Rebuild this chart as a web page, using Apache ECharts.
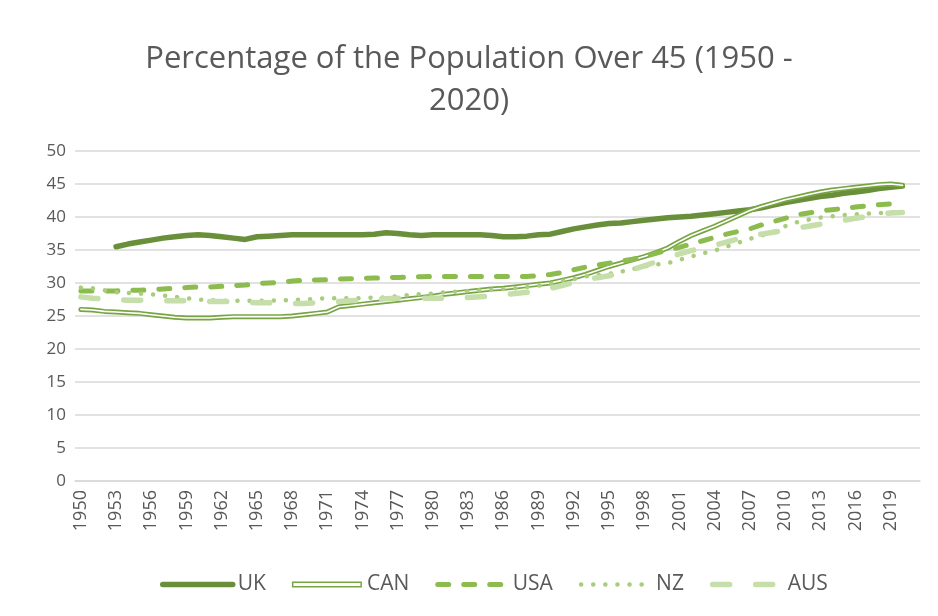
<!DOCTYPE html>
<html><head><meta charset="utf-8">
<script src="https://cdn.jsdelivr.net/npm/echarts@6/dist/echarts.min.js"></script>
<style>html,body{margin:0;padding:0;background:#fff}#c{width:938px;height:616px}</style>
</head><body><div id="c"></div>
<script>
const years = ['1950','1951','1952','1953','1954','1955','1956','1957','1958','1959',
'1960','1961','1962','1963','1964','1965','1966','1967','1968','1969',
'1970','1971','1972','1973','1974','1975','1976','1977','1978','1979',
'1980','1981','1982','1983','1984','1985','1986','1987','1988','1989',
'1990','1991','1992','1993','1994','1995','1996','1997','1998','1999',
'2000','2001','2002','2003','2004','2005','2006','2007','2008','2009',
'2010','2011','2012','2013','2014','2015','2016','2017','2018','2019',
'2020','2021'];
const yTicks = [0,5,10,15,20,25,30,35,40,45,50];

const uk = [null,null,null,35.5,35.9,36.2,36.5,36.8,37.0,37.2,
37.3,37.2,37.0,36.8,36.6,37.0,37.1,37.2,37.3,37.3,
37.3,37.3,37.3,37.3,37.3,37.4,37.6,37.5,37.3,37.2,
37.3,37.3,37.3,37.3,37.3,37.2,37.0,37.0,37.1,37.3,
37.4,37.8,38.2,38.5,38.8,39.0,39.1,39.3,39.5,39.7,
39.9,40.0,40.1,40.3,40.5,40.7,40.9,41.1,41.4,41.8,
42.2,42.5,42.8,43.1,43.3,43.6,43.8,44.0,44.3,44.5,
44.7];
const can = [26.0,25.9,25.7,25.6,25.5,25.4,25.2,25.0,24.8,24.7,
24.7,24.7,24.8,24.9,24.9,24.9,24.9,24.9,25.0,25.2,
25.4,25.6,26.4,26.6,26.8,27.0,27.2,27.4,27.6,27.8,
28.0,28.3,28.5,28.7,28.9,29.1,29.2,29.4,29.6,29.8,
30.0,30.4,30.8,31.3,31.9,32.5,33.0,33.5,34.0,34.6,
35.3,36.3,37.2,37.9,38.6,39.4,40.2,41.0,41.6,42.1,
42.6,43.0,43.4,43.8,44.1,44.3,44.5,44.7,44.9,45.0,
44.8];
const usa = [28.8,28.8,28.8,28.8,28.9,28.9,29.0,29.1,29.2,29.3,
29.4,29.4,29.5,29.6,29.7,29.9,30.0,30.1,30.3,30.4,
30.45,30.5,30.6,30.65,30.7,30.75,30.8,30.85,30.9,30.95,
31.0,31.0,31.0,31.0,31.0,31.0,31.0,31.0,31.0,31.1,
31.3,31.6,32.0,32.4,32.7,33.0,33.3,33.6,34.0,34.5,
35.0,35.4,35.9,36.4,36.9,37.4,37.8,38.2,38.8,39.3,
39.8,40.3,40.6,40.9,41.1,41.3,41.5,41.7,41.85,42.0,
42.1];
const nz = [29.3,29.2,28.9,28.6,28.5,28.4,28.3,28.1,27.9,27.7,
27.5,27.4,27.3,27.3,27.3,27.3,27.3,27.4,27.4,27.5,
27.6,27.7,27.7,27.7,27.7,27.8,27.8,28.0,28.2,28.3,
28.4,28.6,28.7,28.8,28.9,29.0,29.1,29.2,29.4,29.6,
29.9,30.3,30.6,31.0,31.2,31.4,31.7,32.1,32.5,32.8,
33.0,33.5,34.0,34.5,34.9,35.5,36.1,36.7,37.2,37.7,
38.6,39.2,39.6,39.9,40.1,40.3,40.4,40.5,40.6,40.7,
40.8];
const aus = [27.9,27.7,27.6,27.5,27.4,27.4,27.4,27.3,27.3,27.3,
27.3,27.2,27.2,27.2,27.1,27.0,27.0,26.9,26.9,26.9,
27.0,27.1,27.2,27.3,27.4,27.5,27.6,27.7,27.7,27.7,
27.7,27.7,27.7,27.8,27.9,28.0,28.2,28.4,28.6,28.8,
29.2,29.6,30.1,30.5,30.8,31.1,31.5,32.0,32.6,33.2,
33.8,34.4,34.9,35.3,35.7,36.2,36.7,37.1,37.4,37.7,
38.0,38.3,38.6,38.9,39.2,39.5,39.8,40.1,40.4,40.6,
40.7];

const FONT = 'Open Sans';
const TXT = '#595959';
const COL = {uk:'#6A8F3B', can:'#78A543', usa:'#8CBB4E', nz:'#A9CC7E', aus:'#C6DEA9'};

const chart = echarts.init(document.getElementById('c'));
const lineBase = (name, data, color, width, type) => ({
  name, type:'line', data, symbol:'none', showSymbol:false, connectNulls:false,
  itemStyle:{color},
  lineStyle:{color, width, type: type || 'solid', cap:'round', join:'round'},
  emphasis:{disabled:true}
});
chart.setOption({
  animation:false,
  backgroundColor:'#fff',
  title:{
    text:'Percentage of the Population Over 45 (1950 -\n2020)',
    left:'center', top:33,
    textStyle:{fontFamily:FONT, fontSize:31, fontWeight:'normal', color:TXT, lineHeight:42}
  },
  grid:{left:75, right:18, top:151, bottom:135},
  xAxis:{
    type:'category', data:years, boundaryGap:true,
    axisLine:{lineStyle:{color:'#D9D9D9', width:1.5}},
    axisTick:{show:false},
    axisLabel:{interval:2, rotate:90, fontFamily:FONT, fontSize:18, color:TXT, margin:9}
  },
  yAxis:{
    type:'value', min:yTicks[0], max:yTicks[yTicks.length-1], interval:5,
    axisLine:{show:false}, axisTick:{show:false},
    axisLabel:{fontFamily:FONT, fontSize:17, color:TXT, margin:9},
    splitLine:{lineStyle:{color:'#D9D9D9', width:1.5}}
  },
  legend:{
    top:569, left:155, itemWidth:70, itemHeight:6, itemGap:26,
    selectedMode:false,
    textStyle:{fontFamily:FONT, fontSize:21, color:TXT},
    data:[
      {name:'UK', itemStyle:{opacity:0}, lineStyle:{width:5.5}},
      {name:'CAN', icon:'path://M0 0H70V6H0Z M1.5 1.5V4.5H68.5V1.5Z', itemStyle:{color:COL.can, opacity:1, borderWidth:0}},
      {name:'USA', itemStyle:{opacity:0}, lineStyle:{width:5}},
      {name:'NZ', itemStyle:{opacity:0}, lineStyle:{width:4.5}},
      {name:'AUS', itemStyle:{opacity:0}, lineStyle:{width:5.5}}
    ]
  },
  series:[
    lineBase('UK', uk, COL.uk, 5.5),
    lineBase('CAN', can, COL.can, 5),
    lineBase('CAN inner', can, '#ffffff', 1.6),
    lineBase('USA', usa, COL.usa, 5, [11, 15]),
    lineBase('NZ', nz, COL.nz, 4.5, [0.1, 12]),
    lineBase('AUS', aus, COL.aus, 5.5, [17, 26])
  ]
});
</script></body></html>
